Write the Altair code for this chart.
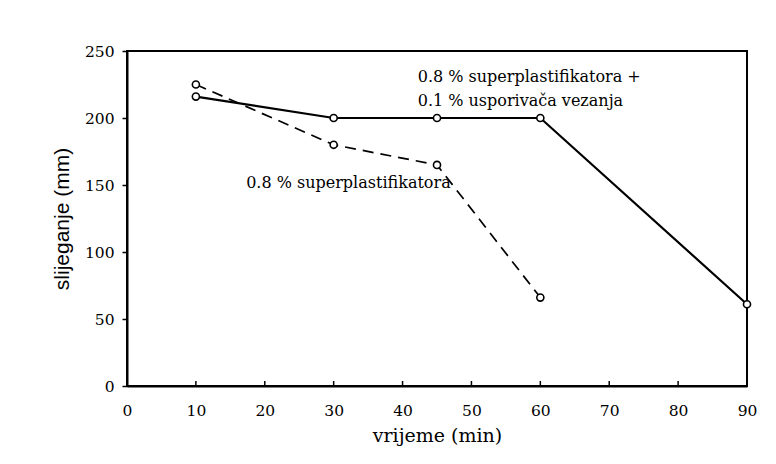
import altair as alt
import pandas as pd

# --- data -------------------------------------------------------------
time_combo = [10, 30, 45, 60, 90]
slump_combo = [216, 200, 200, 200, 61]

time_sp = [10, 30, 45, 60]
slump_sp = [225, 180, 165, 66]

x_tick_values = [0, 10, 20, 30, 40, 50, 60, 70, 80, 90]
x_inner_ticks = [10, 20, 30, 40, 50, 60, 70, 80]
y_tick_values = [0, 50, 100, 150, 200, 250]

note_text = ["0.8 % superplastifikatora +", "0.1 % usporivača vezanja", "0.8 % superplastifikatora"]
note_x = [42.2, 42.2, 17.3]
note_y = [230.5, 213.0, 151.5]

# --- tables ------------------------------------------------------------
df_combo = pd.DataFrame({"t": time_combo, "s": slump_combo})
df_sp = pd.DataFrame({"t": time_sp, "s": slump_sp})
df_ticks = pd.DataFrame({"t": x_inner_ticks})
df_notes = pd.DataFrame({"t": note_x, "s": note_y, "label": note_text})

W, H = 620, 335
SERIF = "DejaVu Serif"
SANS = "Liberation Sans"

xscale = alt.Scale(domain=[0, 90], nice=False, zero=False)
yscale = alt.Scale(domain=[0, 250], nice=False)

x_axis = alt.Axis(
    values=x_tick_values, tickSize=0, labelPadding=17, labelFlush=False,
    labelOverlap=False, grid=False, title="vrijeme (min)",
    labelFont=SERIF, labelFontSize=15.5, labelColor="black",
    titleFont=SERIF, titleFontSize=19, titleFontWeight="normal",
    titleColor="black", titlePadding=8, domainColor="black", domainWidth=2,
)
y_axis = alt.Axis(
    values=y_tick_values, tickSize=5, tickColor="black", tickWidth=1.5,
    labelPadding=8, labelFlush=False, grid=False, title="slijeganje (mm)",
    labelFont=SERIF, labelFontSize=15.5, labelColor="black",
    titleFont=SANS, titleFontSize=21, titleFontWeight="normal",
    titleColor="black", titlePadding=12, domainColor="black", domainWidth=2,
)

base_x = alt.X("t:Q", scale=xscale, axis=x_axis)
base_y = alt.Y("s:Q", scale=yscale, axis=y_axis)

line_combo = alt.Chart(df_combo).mark_line(color="black", strokeWidth=2.2).encode(x=base_x, y=base_y)
line_sp = alt.Chart(df_sp).mark_line(color="black", strokeWidth=1.7, strokeDash=[11, 7]).encode(
    x=alt.X("t:Q", scale=xscale), y=alt.Y("s:Q", scale=yscale)
)
pts_combo = alt.Chart(df_combo).mark_point(
    shape="circle", size=50, filled=True, fill="white", stroke="black", strokeWidth=1.6, opacity=1
).encode(x=alt.X("t:Q", scale=xscale), y=alt.Y("s:Q", scale=yscale))
pts_sp = alt.Chart(df_sp).mark_point(
    shape="circle", size=50, filled=True, fill="white", stroke="black", strokeWidth=1.6, opacity=1
).encode(x=alt.X("t:Q", scale=xscale), y=alt.Y("s:Q", scale=yscale))

inner_ticks = alt.Chart(df_ticks).mark_rule(color="black", strokeWidth=1.5).encode(
    x=alt.X("t:Q", scale=xscale), y=alt.value(H), y2=alt.value(H - 5)
)

notes = alt.Chart(df_notes).mark_text(
    align="left", baseline="middle", font=SERIF, fontSize=16, color="black"
).encode(x=alt.X("t:Q", scale=xscale), y=alt.Y("s:Q", scale=yscale), text="label:N")

chart = (
    alt.layer(line_combo, line_sp, inner_ticks, pts_combo, pts_sp, notes)
    .properties(
        width=W, height=H,
        autosize=alt.AutoSizeParams(type="none"),
        padding={"left": 119, "top": 43, "right": 21, "bottom": 70},
        background="white",
    )
    .configure_view(stroke="black", strokeWidth=2)
)

chart.save("out.html", embed_options={"renderer": "svg", "actions": False})
